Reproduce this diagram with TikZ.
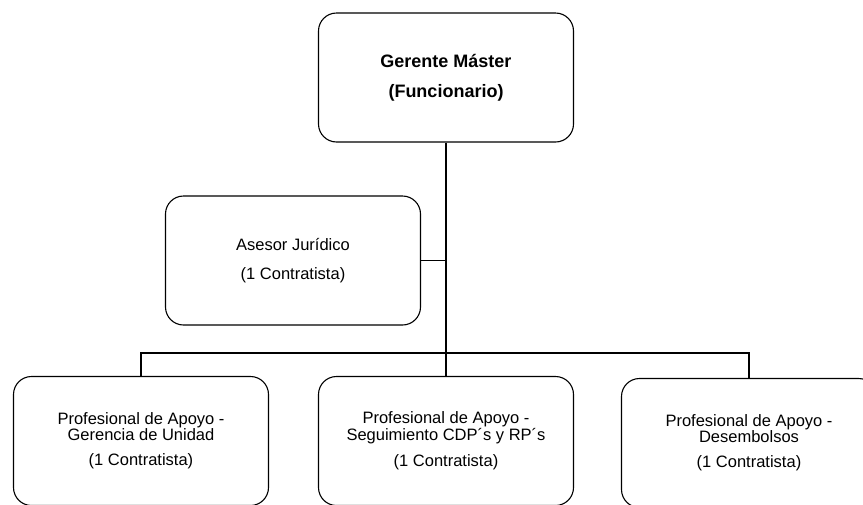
\documentclass[tikz,border=0pt]{standalone}
\usepackage{fontspec}
\setmainfont{Liberation Sans}

\begin{document}
\begin{tikzpicture}[x = 1pt, y = -1pt,
	box/.style = {draw, rounded corners = 18pt, line width = 1.1pt, minimum width = 255pt, minimum height = 129pt, align = center, inner sep = 0pt},
	txt/.style = {font = \fontsize{16.5}{15}\selectfont},
	link/.style = {line width = 1.6pt}]%organigrama
	\useasboundingbox (0,0) rectangle (863,504);
	\node[box, font = \fontsize{18}{30}\selectfont\bfseries](GM) at (446,77.5){Gerente Máster\\(Funcionario)};
	\node[box, font = \fontsize{16.5}{29}\selectfont](AJ) at (293,260.5){Asesor Jurídico\\(1 Contratista)};
	\node[box, txt](PA) at (141,441){Profesional de Apoyo -\\Gerencia de Unidad\\[10pt](1 Contratista)};
	\node[box, txt](PB) at (446,441){Profesional de Apoyo -\\Seguimiento CDP´s y RP´s\\[10pt](1 Contratista)};
	\node[box, txt](PC) at (749,443){Profesional de Apoyo -\\Desembolsos\\[10pt](1 Contratista)};
	\coordinate (BUS) at (446,353);
	\draw[link]
	(GM.south) -- (PB.north)
	(AJ.east) -- (AJ.east -| GM.south)
	(PA.north) |- (BUS) -| (PC.north);
\end{tikzpicture}
\end{document}
